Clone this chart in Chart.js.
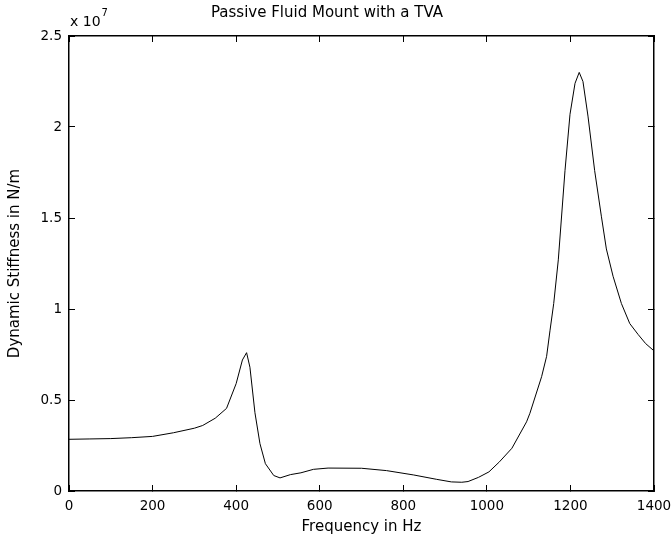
<!DOCTYPE html>
<html>
<head>
<meta charset="utf-8">
<script src="https://cdn.jsdelivr.net/npm/chart.js@4"></script>
<style>
  html, body { margin: 0; padding: 0; background: #fff; }
  #wrap { width: 671px; height: 543px; }
</style>
</head>
<body>
<div id="wrap"><canvas id="chart"></canvas></div>
<script>
'use strict';

// Frequenz (Hz) und dynamische Steifigkeit (x 1e7 N/m)
const freqHz = [
  0, 50, 100, 150, 200, 250, 300, 320, 350, 377, 400, 415, 425, 433, 445, 457,
  470, 490, 505, 530, 555, 585, 620, 700, 760, 825, 880, 915, 940, 955, 980,
  1005, 1030, 1060, 1095, 1103, 1131, 1143, 1151, 1160, 1171, 1187, 1199, 1211,
  1221, 1230, 1242, 1258, 1274, 1286, 1302, 1322, 1342, 1362, 1380, 1400,
];
const stiffness = [
  0.284, 0.286, 0.288, 0.293, 0.300, 0.320, 0.345, 0.360, 0.400, 0.454, 0.590,
  0.720, 0.760, 0.680, 0.430, 0.260, 0.150, 0.085, 0.072, 0.090, 0.100, 0.119,
  0.126, 0.125, 0.112, 0.088, 0.064, 0.050, 0.048, 0.052, 0.075, 0.105, 0.160,
  0.235, 0.380, 0.427, 0.628, 0.740, 0.880, 1.030, 1.270, 1.760, 2.070, 2.240,
  2.300, 2.250, 2.060, 1.760, 1.510, 1.330, 1.180, 1.030, 0.920, 0.860, 0.810,
  0.770,
];
const xTicks = [0, 200, 400, 600, 800, 1000, 1200, 1400];
const yTicks = [0, 0.5, 1, 1.5, 2, 2.5];

const FONT = '"DejaVu Sans", sans-serif';
const TEXT_COLOR = '#000';
const TICK_LEN = -6; // negativ = Striche nach innen
const FRAME_WIDTH = 1.5;

// Exponent über der y-Achse
const exponentPlugin = {
  id: 'exponent',
  afterDraw(chart) {
    const { ctx, chartArea: a } = chart;
    ctx.save();
    ctx.fillStyle = TEXT_COLOR;
    ctx.textBaseline = 'alphabetic';
    ctx.textAlign = 'left';
    ctx.font = `14px ${FONT}`;
    const base = 'x 10';
    ctx.fillText(base, a.left + 1, a.top - 10);
    const w = ctx.measureText(base).width;
    ctx.font = `10px ${FONT}`;
    ctx.fillText('7', a.left + 2 + w, a.top - 20);
    ctx.restore();
  },
};

function frameAxis(position, min, max, tickValues, showLabels, size) {
  const horizontal = position === 'top' || position === 'bottom';
  return {
    type: 'linear',
    position,
    min,
    max,
    grid: {
      display: true,
      drawOnChartArea: false,
      drawTicks: true,
      tickLength: TICK_LEN,
      color: '#000',
      lineWidth: 1,
    },
    border: { display: true, color: '#000', width: FRAME_WIDTH, z: 1 },
    afterBuildTicks: s => { s.ticks = tickValues.map(v => ({ value: v })); },
    afterFit: s => {
      if (horizontal) s.height = size;
      else s.width = size;
      // kein Platz für überstehende Beschriftungen reservieren
      s.paddingLeft = 0;
      s.paddingRight = 0;
      s.paddingTop = 0;
      s.paddingBottom = 0;
    },
    ticks: {
      display: showLabels,
      color: TEXT_COLOR,
      font: { family: FONT, size: 13.5 },
      padding: 7 - TICK_LEN,
      maxRotation: 0,
      autoSkip: false,
      callback: v => String(v),
    },
  };
}

const xAxis = frameAxis('bottom', 0, 1400, xTicks, true, 52);
xAxis.title = {
  display: true,
  text: 'Frequency in Hz',
  color: TEXT_COLOR,
  font: { family: FONT, size: 15 },
  padding: { top: 0, bottom: 7 },
};
const yAxis = frameAxis('left', 0, 2.5, yTicks, true, 69);
yAxis.title = {
  display: true,
  text: 'Dynamic Stiffness in N/m',
  color: TEXT_COLOR,
  font: { family: FONT, size: 15 },
  padding: { top: 6, bottom: 0 },
};

const ctx = document.getElementById('chart').getContext('2d');
new Chart(ctx, {
  type: 'line',
  data: {
    datasets: [
      {
        label: 'Dynamic Stiffness',
        data: freqHz.map((f, i) => ({ x: f, y: stiffness[i] })),
        borderColor: '#000',
        borderWidth: 1,
        pointRadius: 0,
        tension: 0,
        fill: false,
        xAxisID: 'x',
        yAxisID: 'y',
      },
    ],
  },
  options: {
    responsive: true,
    maintainAspectRatio: false,
    animation: false,
    layout: { padding: { top: 0, right: 17, left: 0, bottom: 0 } },
    plugins: {
      legend: { display: false },
      tooltip: { enabled: false },
      title: {
        display: true,
        text: 'Passive Fluid Mount with a TVA',
        color: TEXT_COLOR,
        font: { family: FONT, size: 15, weight: 'normal' },
        padding: { top: 4, bottom: 14 },
      },
    },
    scales: {
      x: xAxis,
      y: yAxis,
      xTop: frameAxis('top', 0, 1400, xTicks, false, 0),
      yRight: frameAxis('right', 0, 2.5, yTicks, false, 0),
    },
  },
  plugins: [exponentPlugin],
});
</script>
</body>
</html>
